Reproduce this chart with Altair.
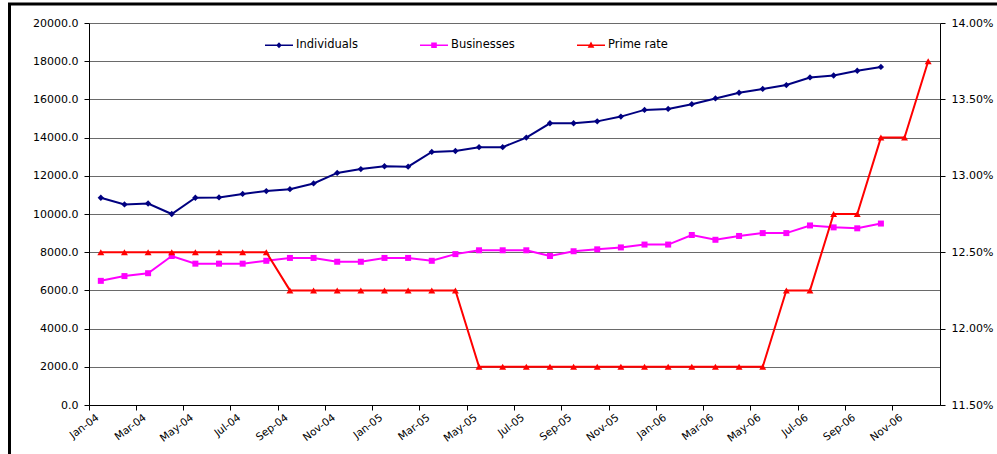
import altair as alt
import pandas as pd

# Monthly categories, Jan-04 .. Dec-06
months = [
    "Jan-04", "Feb-04", "Mar-04", "Apr-04", "May-04", "Jun-04",
    "Jul-04", "Aug-04", "Sep-04", "Oct-04", "Nov-04", "Dec-04",
    "Jan-05", "Feb-05", "Mar-05", "Apr-05", "May-05", "Jun-05",
    "Jul-05", "Aug-05", "Sep-05", "Oct-05", "Nov-05", "Dec-05",
    "Jan-06", "Feb-06", "Mar-06", "Apr-06", "May-06", "Jun-06",
    "Jul-06", "Aug-06", "Sep-06", "Oct-06", "Nov-06", "Dec-06",
]

# Left axis series (Jan-04 .. Oct-06)
individuals = [
    10850, 10500, 10550, 10000, 10850, 10870, 11050, 11200, 11300, 11600,
    12150, 12350, 12500, 12480, 13250, 13300, 13500, 13500, 14000, 14750,
    14750, 14850, 15100, 15450, 15500, 15750, 16050, 16350, 16550, 16750,
    17150, 17250, 17500, 17700,
]
businesses = [
    6500, 6750, 6900, 7800, 7400, 7400, 7400, 7550, 7700, 7700,
    7500, 7500, 7700, 7700, 7550, 7900, 8100, 8100, 8100, 7800,
    8050, 8150, 8250, 8400, 8400, 8900, 8650, 8850, 9000, 9000,
    9400, 9300, 9250, 9500,
]

# Right axis series (Jan-04 .. Dec-06), as fractions
prime_rate = (
    [0.125] * 8 + [0.1225] * 8 + [0.1175] * 13
    + [0.1225] * 2 + [0.1275] * 2 + [0.1325] * 2 + [0.1375]
)

series_names = ["Individuals", "Businesses", "Prime rate"]
series_colors = ["#000080", "#FF00FF", "#FF0000"]

left_ticks = list(range(0, 20001, 2000))
right_ticks = [0.115, 0.12, 0.125, 0.13, 0.135, 0.14]

FONT = "DejaVu Sans"

ind_df = pd.DataFrame({"month": months[:len(individuals)], "value": individuals})
bus_df = pd.DataFrame({"month": months[:len(businesses)], "value": businesses})
prime_df = pd.DataFrame({"month": months, "rate": prime_rate})

# Legend symbols: a short line with the series marker on it
legend_paths = [
    "M-1,-0.06H1V0.06H-1Z M0,-0.22L0.2,0L0,0.22L-0.2,0Z",
    "M-1,-0.06H1V0.06H-1Z M-0.2,-0.2H0.2V0.2H-0.2Z",
    "M-1,-0.06H1V0.06H-1Z M0,-0.26L0.24,0.18L-0.24,0.18Z",
]

x_enc = alt.X(
    "month:O",
    scale=alt.Scale(type="band", domain=months, paddingInner=0, paddingOuter=0),
    axis=alt.Axis(
        values=months[::2], bandPosition=0, labelAngle=-37, labelOffset=-6, title=None,
        tickSize=5, tickColor="black", domainColor="black", labelPadding=2,
        labelFont=FONT, labelFontSize=10.5, labelColor="black", grid=False,
    ),
)

y_left = alt.Y(
    "value:Q",
    scale=alt.Scale(domain=[0, 20000], nice=False),
    axis=alt.Axis(
        values=left_ticks, format=".1f", title=None, orient="left",
        grid=True, gridColor="#6a6a6a", gridWidth=1,
        domainColor="black", tickColor="black", tickSize=5, labelPadding=6,
        labelFont=FONT, labelFontSize=11, labelColor="black",
    ),
)

y_right = alt.Y(
    "rate:Q",
    scale=alt.Scale(domain=[0.115, 0.14], nice=False, zero=False),
    axis=alt.Axis(
        values=right_ticks, format=".2%", title=None, orient="right", grid=False,
        domainColor="black", tickColor="black", tickSize=5, labelPadding=6,
        labelFont=FONT, labelFontSize=11, labelColor="black",
    ),
)


def series_layers(df, y, color, shape, size):
    line = alt.Chart(df).mark_line(strokeWidth=2, color=color).encode(x=x_enc, y=y)
    pts = alt.Chart(df).mark_point(
        shape=shape, filled=True, size=size, opacity=1, color=color
    ).encode(x=x_enc, y=y)
    return [line, pts]


legend_cfg = alt.Legend(
    title=None, orient="none", legendX=176, legendY=8, direction="horizontal",
    symbolSize=784, symbolStrokeWidth=0, symbolOpacity=1, labelFont=FONT,
    labelFontSize=11.5, labelColor="black", labelOffset=3, columnPadding=62,
    padding=0,
)
# Legend-only layer: its points sit below the axis range and are clipped away
legend_df = pd.DataFrame({"month": months[:3], "value": [-9000] * 3, "series": series_names})
legend_layer = alt.Chart(legend_df).mark_point(filled=True, opacity=1, clip=True).encode(
    x=x_enc, y=y_left,
    color=alt.Color("series:N", scale=alt.Scale(domain=series_names, range=series_colors),
                    legend=legend_cfg),
    shape=alt.Shape("series:N", scale=alt.Scale(domain=series_names, range=legend_paths),
                    legend=legend_cfg),
)

frame = alt.Chart(pd.DataFrame({"k": [0]})).mark_rect(
    filled=False, stroke="black", strokeWidth=3, clip=False
).encode(
    x=alt.value(-79.5), x2=alt.value(1100), y=alt.value(-19), y2=alt.value(600),
)

left = alt.layer(
    *series_layers(ind_df, y_left, "#000080", "diamond", 40),
    *series_layers(bus_df, y_left, "#FF00FF", "square", 36),
    legend_layer, frame,
)
right = alt.layer(*series_layers(prime_df, y_right, "#FF0000", "triangle-up", 48))

chart = alt.layer(left, right).resolve_scale(y="independent").properties(
    width=851, height=382,
    padding={"left": 89, "top": 23, "right": 57, "bottom": 49},
    autosize=alt.AutoSizeParams(type="none"),
    background="white",
).configure_view(stroke=None)

chart.save("out.html", embed_options={"renderer": "svg", "actions": False})
